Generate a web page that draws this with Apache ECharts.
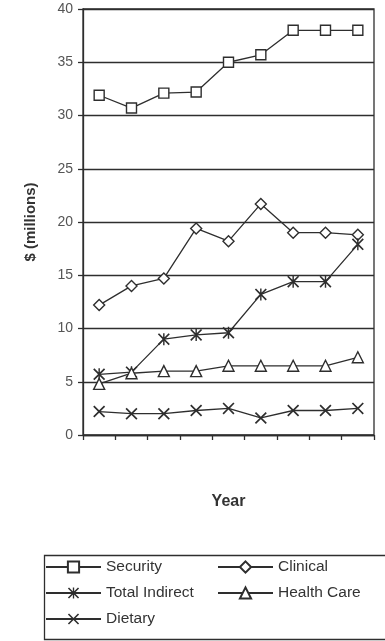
<!DOCTYPE html>
<html>
<head>
<meta charset="utf-8">
<script src="https://cdn.jsdelivr.net/npm/echarts@6/dist/echarts.min.js"></script>
<style>
html,body{margin:0;padding:0;background:#fff;}
#c{width:385px;height:641px;}
</style>
</head>
<body>
<div id="c"></div>
<script>
const categories = ['1','2','3','4','5','6','7','8','9'];
const yTicks = [0,5,10,15,20,25,30,35,40];
const security = [31.9,30.7,32.1,32.2,35.0,35.7,38.0,38.0,38.0];
const clinical = [12.2,14.0,14.7,19.4,18.2,21.7,19.0,19.0,18.8];
const totalIndirect = [5.7,5.9,9.0,9.4,9.6,13.2,14.4,14.4,17.9];
const healthCare = [4.8,5.8,6.0,6.0,6.5,6.5,6.5,6.5,7.3];
const dietary = [2.2,2.0,2.0,2.3,2.5,1.6,2.3,2.3,2.5];

const X_PATH = 'path://M0,1 L1,0 L5,4 L9,0 L10,1 L6,5 L10,9 L9,10 L5,6 L1,10 L0,9 L4,5 Z';
const AST_PATH = 'path://M0,1 L1,0 L5,4 L9,0 L10,1 L6,5 L10,9 L9,10 L5,6 L1,10 L0,9 L4,5 Z M4.4,0 L5.6,0 L5.6,10 L4.4,10 Z';
const ink = '#2e2e2e';

function mk(name, data, symbol, size, filled) {
  return {
    name: name, type: 'line', data: data,
    symbol: symbol, symbolSize: size,
    lineStyle: {color: ink, width: 1.3},
    itemStyle: filled ? {color: ink, borderWidth: 0} : {color: '#fff', borderColor: ink, borderWidth: 1.4},
    emphasis: {disabled: true},
    animation: false
  };
}

const legendText = {fontFamily: 'Liberation Sans', fontSize: 15.5, color: '#333'};
const chart = echarts.init(document.getElementById('c'), null, {renderer: 'canvas'});
chart.setOption({
  backgroundColor: '#ffffff',
  animation: false,
  grid: {left: 83, top: 9, right: 11, bottom: 206, show: true, borderColor: ink, borderWidth: 1.3},
  xAxis: {
    type: 'category', data: categories, boundaryGap: true,
    name: 'Year', nameLocation: 'middle', nameGap: 59,
    nameTextStyle: {fontFamily: 'Liberation Sans', fontWeight: 'bold', fontSize: 16, color: '#333'},
    axisLine: {lineStyle: {color: ink, width: 1.3}},
    axisTick: {show: true, length: 5, lineStyle: {color: ink, width: 1.3}},
    axisLabel: {show: false},
    splitLine: {show: false}
  },
  yAxis: {
    type: 'value', min: 0, max: 40, interval: 5,
    name: '$ (millions)', nameLocation: 'middle', nameGap: 45, nameRotate: 90,
    nameTextStyle: {fontFamily: 'Liberation Sans', fontWeight: 'bold', fontSize: 15, color: '#333'},
    axisLine: {show: true, lineStyle: {color: ink, width: 1.3}},
    axisTick: {show: true, length: 5, lineStyle: {color: ink, width: 1.3}},
    axisLabel: {fontFamily: 'Liberation Sans', fontSize: 14, color: '#555', margin: 10,
      formatter: v => yTicks.indexOf(v) >= 0 ? String(v) : ''},
    splitLine: {show: true, lineStyle: {color: ink, width: 1.3}}
  },
  graphic: [{
    type: 'rect', left: 42, top: 553,
    shape: {width: 350, height: 84},
    style: {fill: 'none', stroke: ink, lineWidth: 1.3}, silent: true
  }],
  legend: [{
    orient: 'vertical', left: 45, top: 559, itemGap: 10, padding: 0,
    itemWidth: 55, itemHeight: 14,
    data: ['Security','Total Indirect','Dietary'],
    textStyle: legendText
  }, {
    orient: 'vertical', left: 217, top: 559, itemGap: 10, padding: 0,
    itemWidth: 55, itemHeight: 14,
    data: ['Clinical','Health Care'],
    textStyle: legendText
  }],
  series: [
    mk('Security', security, 'rect', 10, false),
    mk('Clinical', clinical, 'diamond', 11, false),
    mk('Total Indirect', totalIndirect, AST_PATH, 12, true),
    mk('Health Care', healthCare, 'triangle', 11, false),
    mk('Dietary', dietary, X_PATH, 12, true)
  ]
});
</script>
</body>
</html>
